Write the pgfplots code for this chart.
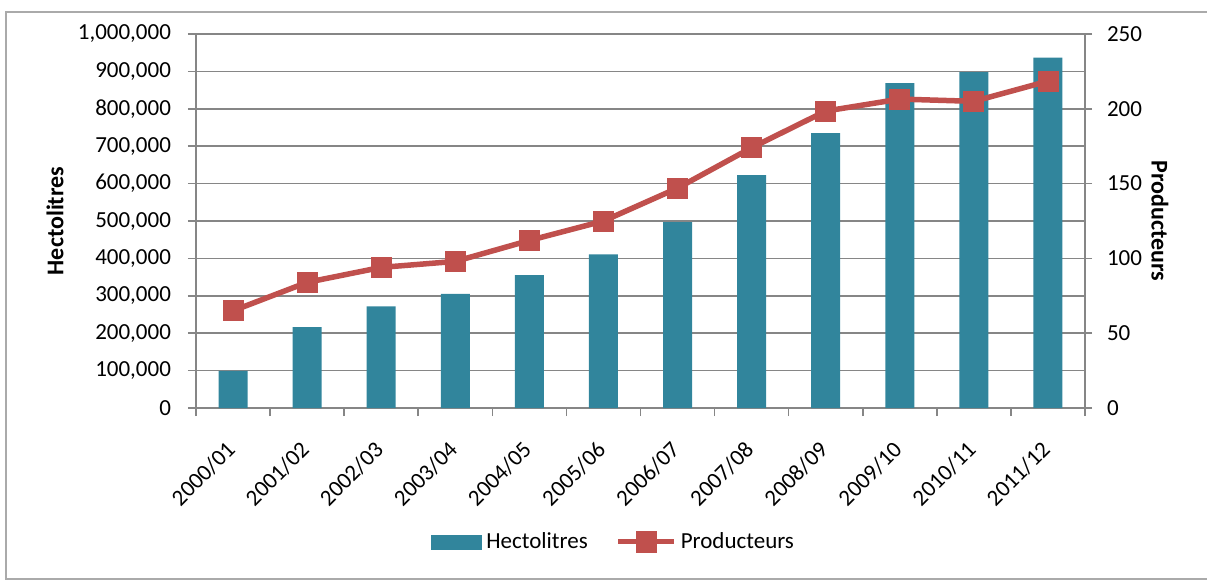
\documentclass[border=0pt]{standalone}
\usepackage{pgfplots}
\pgfplotsset{compat=1.18}
\usepackage{fontspec}
\setmainfont{Carlito}
\definecolor{barc}{RGB}{49,133,156}
\definecolor{linec}{RGB}{192,80,77}
\definecolor{gridc}{RGB}{134,134,134}

\pgfplotsset{
  common/.style={
    at={(98pt,-204pt)}, anchor=south west,
    scale only axis, width=444.5pt, height=187pt,
    xmin=-0.5, xmax=11.5, ymin=0,
    tick align=outside,
    axis line style={gridc, line width=0.8pt, -},
    every tick/.style={gridc, line width=0.8pt},
    major tick length=4pt,
    tick label style={font=\fontsize{11.5}{13}\selectfont},
    label style={font=\fontsize{12}{14}\selectfont\bfseries},
    /pgf/number format/fixed,
    /pgf/number format/assume math mode=true,
    /pgf/number format/1000 sep={,},
    scaled y ticks=false,
  }
}

\begin{document}
\begin{tikzpicture}
\path[use as bounding box] (0,0) rectangle (603.5pt,-290pt);
\draw[gridc!70, line width=0.9pt] (3pt,-6pt) rectangle (620pt,-289.5pt);

% Hectolitres (left axis)
\begin{axis}[
  common,
  ymax=1000000,
  axis y line*=left, axis x line*=bottom,
  ytick={0,100000,...,1000000},
  yticklabel style={xshift=-5pt},
  ymajorgrids, grid style={gridc, line width=0.8pt},
  xtick={0,...,11},
  xticklabels={2000/01,2001/02,2002/03,2003/04,2004/05,2005/06,2006/07,2007/08,2008/09,2009/10,2010/11,2011/12},
  x tick style={draw=none},
  extra x ticks={-0.5,0.5,...,11.5},
  extra x tick labels={},
  extra x tick style={x tick style={draw=gridc, line width=0.8pt}, major tick length=4pt},
  xticklabel style={xshift=-4pt, yshift=-7pt, rotate=45, anchor=north east},
  ylabel={Hectolitres},
  ylabel style={at={(axis description cs:-0.1586,0.5)}, anchor=center},
]
\addplot[ybar, bar width=14.5pt, fill=barc, draw=none] coordinates {
  (0,99000) (1,216000) (2,272000) (3,305000) (4,355000) (5,411000)
  (6,497000) (7,623000) (8,735000) (9,869000) (10,898000) (11,937000)
};
\end{axis}

% Producteurs (right axis)
\begin{axis}[
  common,
  ymax=250,
  axis y line*=right, axis x line=none,
  ytick={0,50,...,250},
  yticklabel style={xshift=4pt},
  major tick length=3.5pt,
  ylabel={Producteurs},
  ylabel style={at={(axis description cs:1.0844,0.5)}, anchor=center, rotate=180},
  legend style={at={(axis description cs:0.471,-0.358)}, anchor=center, draw=none,
    fill=none, font=\fontsize{11.5}{13}\selectfont,
    legend columns=-1,
    /tikz/every even column/.append style={column sep=12pt}},
]
\addlegendimage{legend image code/.code={\fill[barc] (0pt,-3.5pt) rectangle (25pt,3.5pt);}}
\addlegendentry{Hectolitres}
\addplot[linec, line width=2.75pt, mark=square*, mark size=5pt,
  mark options={solid, line width=0.4pt, fill=linec},
  legend image code/.code={\draw[linec, line width=2.5pt] (0pt,0pt) -- (28pt,0pt);
    \fill[linec] (10pt,-4pt) rectangle (18pt,4pt);}]
coordinates {
  (0,65) (1,84) (2,94) (3,98) (4,112) (5,125)
  (6,147) (7,174) (8,198.5) (9,206.5) (10,205) (11,218.5)
};
\addlegendentry{Producteurs}
\end{axis}
\end{tikzpicture}
\end{document}
